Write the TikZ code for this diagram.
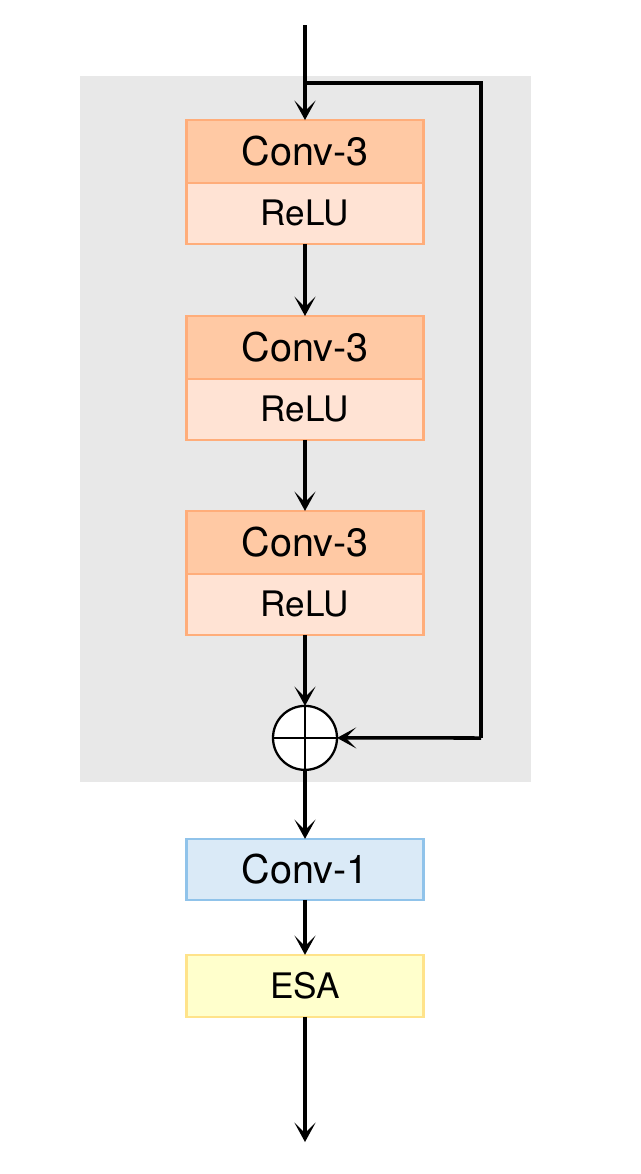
\documentclass[tikz,border=0pt]{standalone}
\usepackage{fontspec}
\setmainfont{TeX Gyre Heros}
\usepackage{xcolor}
\usetikzlibrary{arrows.meta}
\usetikzlibrary{positioning}

\definecolor{convfill}{HTML}{FFC9A4}
\definecolor{relufill}{HTML}{FFE3D4}
\definecolor{convline}{HTML}{FFAD7A}
\definecolor{blufill}{HTML}{DAEAF7}
\definecolor{bluline}{HTML}{90C3EA}
\definecolor{esafill}{HTML}{FFFFCC}
\definecolor{esaline}{HTML}{FFE38A}
\definecolor{bggray}{HTML}{E8E8E8}

\begin{document}
\begin{tikzpicture}[x=0.02cm,y=-0.02cm,
		conv/.style={draw=convline,fill=convfill,line width=1.3pt,minimum width=4.74cm,minimum height=1.26cm,outer sep=0pt,font=\fontsize{22.5}{25}\selectfont},
		relu/.style={draw=convline,fill=relufill,line width=1.3pt,minimum width=4.74cm,minimum height=1.22cm,outer sep=0pt,font=\fontsize{20}{23}\selectfont},
		arr/.style={line width=2pt,-{Stealth[length=11pt,width=12pt,inset=6pt]}}]
		\useasboundingbox (0,0) rectangle (640,1174);
		
		% residual block background
		\fill[bggray] (80,76) rectangle (531,782);
		
		% three conv-relu blocks
		\node[conv] (conva) at (305,151.5) {Conv-3};
		\node[relu,below=0pt of conva] (relua) {ReLU};
		\node[conv,below=1.44cm of relua] (convb) {Conv-3};
		\node[relu,below=0pt of convb] (relub) {ReLU};
		\node[conv,below=1.42cm of relub] (convc) {Conv-3};
		\node[relu,below=0pt of convc] (reluc) {ReLU};
		
		% sum
		\node[draw,fill=white,circle,line width=1.3pt,minimum size=1.28cm,inner sep=0pt,outer sep=0pt,below=1.42cm of reluc] (add) {};
		\draw[line width=1.3pt] (add.north) -- (add.south) (add.west) -- (add.east);
		
		% conv-1 and esa
		\node[draw=bluline,fill=blufill,line width=1.3pt,minimum width=4.74cm,minimum height=1.22cm,outer sep=0pt,below=1.38cm of add,font=\fontsize{22.5}{25}\selectfont] (convd) {Conv-1};
		\node[draw=esaline,fill=esafill,line width=1.3pt,minimum width=4.74cm,minimum height=1.24cm,outer sep=0pt,below=1.1cm of convd,font=\fontsize{20}{23}\selectfont] (esa) {ESA};
		
		\coordinate (in) at (305,25);
		\coordinate (out) at (305,1142);
		\coordinate (skipa) at (305,83);
		\coordinate (skipb) at (481,83);
		\coordinate (skipc) at (481,738);
		
		% arrows
		\draw[arr] (in) -- (conva);
		\draw[arr] (relua) -- (convb);
		\draw[arr] (relub) -- (convc);
		\draw[arr] (reluc) -- (add);
		\draw[arr] (add) -- (convd);
		\draw[arr] (convd) -- (esa);
		\draw[arr] (esa) -- (out);
		\draw[line width=2pt] (skipa) -- (skipb) -- (skipc);
		\draw[arr] (skipc) -- (add);
	\end{tikzpicture}
\end{document}
